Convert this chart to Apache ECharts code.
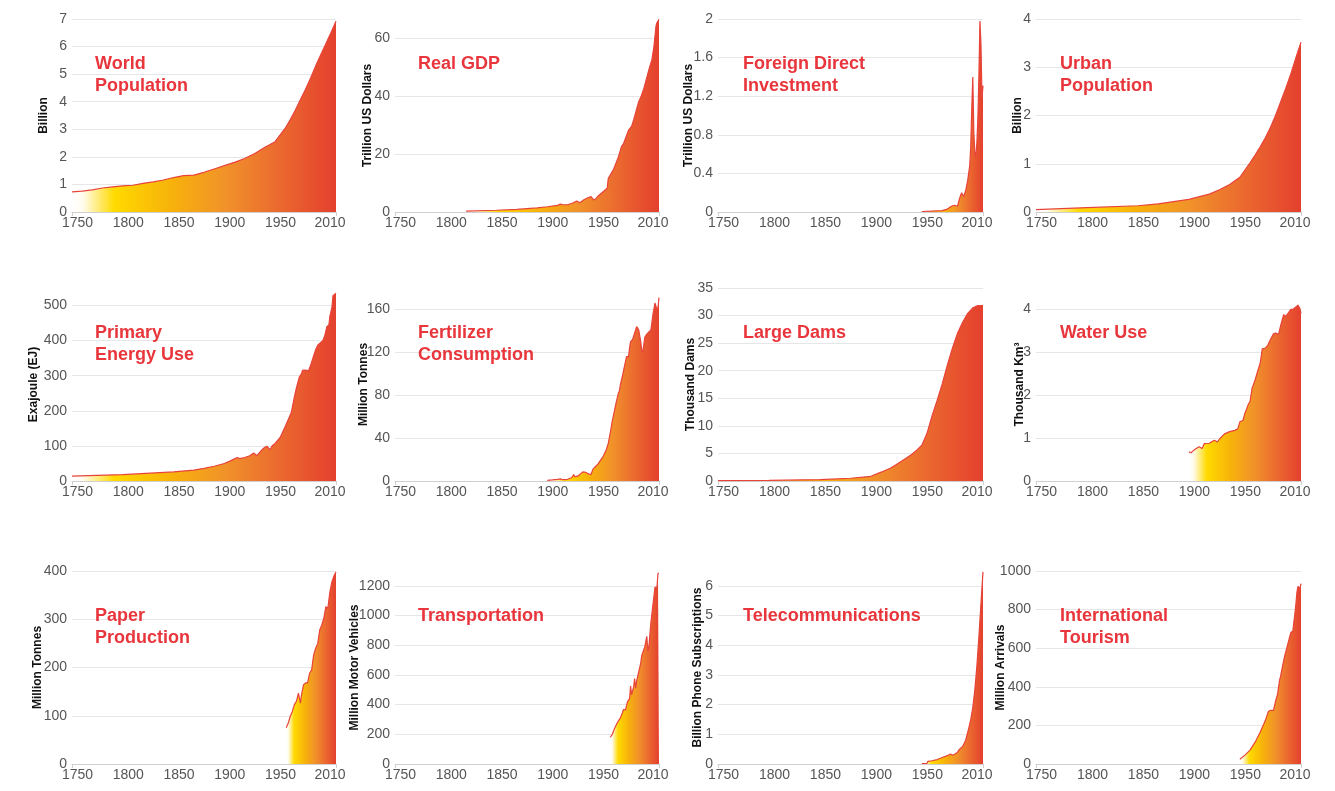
<!DOCTYPE html>
<html><head><meta charset="utf-8">
<script src="https://cdn.jsdelivr.net/npm/echarts@6/dist/echarts.min.js"></script>
<style>html,body{margin:0;padding:0;background:#fff}#c{width:1335px;height:791px}</style>
</head><body><div id="c"></div>
<script>
// ---- x axis tick labels ----
const xTickLabels = [1750, 1800, 1850, 1900, 1950, 2010];

// ---- World Population (billion) ----
const popYears  = [1750,1760,1770,1780,1790,1800,1810,1820,1830,1840,1850,1860,1870,1880,1890,1900,1910,1920,1930,1940,1950,1955,1960,1965,1970,1975,1980,1985,1990,1995,2000,2005,2010];
const popValues = [0.73,0.76,0.80,0.87,0.91,0.95,0.97,1.04,1.09,1.16,1.25,1.32,1.34,1.44,1.56,1.68,1.80,1.94,2.12,2.35,2.55,2.80,3.04,3.35,3.70,4.08,4.45,4.86,5.30,5.70,6.10,6.50,6.92];
const popTicks  = [0,1,2,3,4,5,6,7];

// ---- Real GDP (trillion US dollars) ----
const gdpYears  = [1820,1850,1870,1890,1900,1910,1913,1915,1920,1925,1929,1932,1936,1940,1943,1946,1948,1950,1955,1959,1960,1965,1970,1973,1975,1980,1983,1985,1990,1992,1995,2000,2003,2005,2007,2008,2009,2010];
const gdpValues = [0.3,0.6,0.9,1.4,1.8,2.3,2.7,2.5,2.5,3.1,3.8,3.2,4.2,4.9,5.3,4.1,4.7,5.5,7.0,8.2,11.5,14.5,19.0,22.5,23.5,28.2,29.5,31.7,38.0,39.5,42.5,49.0,52.5,57.0,64.0,65.2,64.8,66.4];
const gdpTicks  = [0,20,40,60];

// ---- Foreign Direct Investment (trillion US dollars) ----
const fdiYears  = [1950,1960,1970,1975,1979,1982,1985,1987,1989,1991,1993,1995,1997,1998,1999,2000,2001,2002,2003,2004,2005,2006,2007,2008,2009,2010];
const fdiValues = [0.005,0.01,0.015,0.03,0.06,0.07,0.06,0.14,0.2,0.16,0.22,0.33,0.48,0.69,1.08,1.40,0.82,0.62,0.57,0.72,0.98,1.42,1.98,1.74,1.18,1.31];
const fdiTicks  = [0,0.4,0.8,1.2,1.6,2];

// ---- Urban Population (billion) ----
const urbYears  = [1750,1800,1850,1870,1900,1920,1930,1940,1950,1955,1960,1965,1970,1975,1980,1985,1990,1995,2000,2005,2010];
const urbValues = [0.05,0.09,0.13,0.17,0.26,0.37,0.46,0.57,0.72,0.87,1.02,1.18,1.35,1.54,1.75,2.00,2.28,2.56,2.86,3.20,3.52];
const urbTicks  = [0,1,2,3,4];

// ---- Primary Energy Use (EJ) ----
const engYears  = [1750,1800,1850,1870,1880,1890,1900,1905,1910,1913,1915,1920,1925,1929,1932,1937,1940,1942,1945,1947,1950,1955,1960,1963,1966,1969,1971,1974,1976,1977,1980,1983,1985,1987,1990,1992,1995,1997,1999,2001,2003,2004,2006,2007,2010];
const engValues = [14,18,26,31,36,42,50,56,63,67,64,67,72,80,72,89,96,99,89,100,107,124,155,175,195,240,265,297,305,315,316,314,330,348,375,387,395,400,415,440,445,470,495,528,535];
const engTicks  = [0,100,200,300,400,500];

// ---- Fertilizer Consumption (million tonnes) ----
const ferYears  = [1900,1905,1910,1913,1915,1920,1924,1926,1927,1930,1935,1938,1941,1943,1945,1948,1950,1955,1958,1960,1962,1964,1966,1968,1970,1971,1972,1974,1976,1978,1980,1981,1982,1984,1986,1988,1990,1992,1993,1994,1996,1998,2000,2002,2004,2006,2007,2008,2009,2010];
const ferValues = [0.6,1.0,1.6,2.0,1.2,1.6,3,6,4,4.5,8.5,8,6.5,6,11,14,16,23,29,35,45,56,65,74,82,84,90,98,107,116,116,124,130,132,138,144,141,130,122,120,134,137,139,141,155,166,167,160,162,171];
const ferTicks  = [0,40,80,120,160];

// ---- Large Dams (thousand dams) ----
const damYears  = [1750,1800,1850,1880,1900,1910,1920,1930,1940,1945,1950,1955,1960,1965,1970,1975,1980,1985,1990,1995,2000,2005,2010];
const damValues = [0.05,0.1,0.25,0.5,0.85,1.6,2.4,3.6,4.8,5.6,6.5,8.6,11.8,14.6,17.6,21.0,24.1,26.8,28.8,30.4,31.4,31.8,31.8];
const damTicks  = [0,5,10,15,20,25,30,35];

// ---- Water Use (thousand km3) ----
const watYears  = [1900,1902,1905,1910,1913,1915,1920,1925,1928,1930,1935,1940,1945,1948,1950,1953,1955,1958,1960,1962,1965,1968,1970,1972,1975,1977,1980,1983,1985,1988,1990,1993,1995,1998,2000,2002,2005,2007,2009,2010];
const watValues = [0.68,0.66,0.72,0.80,0.76,0.87,0.88,0.95,0.91,0.98,1.10,1.15,1.18,1.22,1.38,1.41,1.58,1.77,1.86,2.16,2.36,2.60,2.75,3.08,3.10,3.15,3.30,3.43,3.45,3.42,3.62,3.88,3.84,3.93,4.00,4.00,4.06,4.10,4.02,3.90];
const watTicks  = [0,1,2,3,4];

// ---- Paper Production (million tonnes) ----
const papYears  = [1961,1963,1965,1967,1969,1971,1973,1974,1975,1976,1978,1980,1982,1984,1986,1988,1990,1992,1994,1996,1998,2000,2002,2004,2006,2008,2009,2010];
const papValues = [75,85,99,109,123,130,147,150,126,143,164,168,168,188,195,226,240,250,278,288,302,326,323,357,378,390,390,398];
const papTicks  = [0,100,200,300,400];

// ---- Transportation (million motor vehicles) ----
const traYears  = [1962,1964,1966,1968,1970,1972,1974,1975,1977,1979,1981,1982,1983,1985,1986,1987,1988,1990,1992,1993,1995,1996,1997,1998,1999,2000,2002,2004,2006,2008,2009,2010];
const traValues = [180,200,235,265,290,311,345,367,365,420,440,525,465,520,575,510,560,620,680,730,770,790,800,860,760,790,950,1070,1190,1190,1285,1285];
const traTicks  = [0,200,400,600,800,1000,1200];

// ---- Telecommunications (billion phone subscriptions) ----
const telYears  = [1950,1955,1956,1960,1965,1970,1975,1978,1980,1982,1985,1987,1990,1993,1996,1998,2000,2002,2004,2006,2008,2010];
const telValues = [0.01,0.02,0.09,0.11,0.15,0.22,0.28,0.34,0.30,0.32,0.40,0.50,0.59,0.80,1.20,1.50,1.90,2.50,3.30,4.30,5.40,6.47];
const telTicks  = [0,1,2,3,4,5,6];

// ---- International Tourism (million arrivals) ----
const touYears  = [1950,1955,1960,1965,1970,1975,1978,1980,1983,1985,1987,1988,1989,1990,1992,1994,1996,1998,2000,2002,2003,2004,2005,2006,2007,2008,2009,2010];
const touValues = [25,46,72,113,166,225,272,278,278,325,360,400,435,455,510,560,600,640,680,690,695,780,830,890,920,920,910,935];
const touTicks  = [0,200,400,600,800,1000];

const panels = [
  {title:'World\nPopulation', unit:'Billion', years:popYears, values:popValues, ticks:popTicks, max:7},
  {title:'Real GDP', unit:'Trillion US Dollars', years:gdpYears, values:gdpValues, ticks:gdpTicks, max:66.5},
  {title:'Foreign Direct\nInvestment', unit:'Trillion US Dollars', years:fdiYears, values:fdiValues, ticks:fdiTicks, max:2},
  {title:'Urban\nPopulation', unit:'Billion', years:urbYears, values:urbValues, ticks:urbTicks, max:4},
  {title:'Primary\nEnergy Use', unit:'Exajoule (EJ)', years:engYears, values:engValues, ticks:engTicks, max:550},
  {title:'Fertilizer\nConsumption', unit:'Million Tonnes', years:ferYears, values:ferValues, ticks:ferTicks, max:180},
  {title:'Large Dams', unit:'Thousand Dams', years:damYears, values:damValues, ticks:damTicks, max:35},
  {title:'Water Use', unit:'Thousand Km³', years:watYears, values:watValues, ticks:watTicks, max:4.5},
  {title:'Paper\nProduction', unit:'Million Tonnes', years:papYears, values:papValues, ticks:papTicks, max:400},
  {title:'Transportation', unit:'Million Motor Vehicles', years:traYears, values:traValues, ticks:traTicks, max:1300},
  {title:'Telecommunications', unit:'Billion Phone Subscriptions', years:telYears, values:telValues, ticks:telTicks, max:6.5},
  {title:'International\nTourism', unit:'Million Arrivals', years:touYears, values:touValues, ticks:touTicks, max:1000}
];

// ---- layout & style ----
const colLeft = [72, 395, 718, 1036];
const colWidth = [264, 264, 265, 265];
const rowTop = [19, 288, 571];
const plotH = 193;
const titleDx = [23, 23, 25, 24];
const nameGaps = [22,21,23,12, 32,25,21,10, 28,34,14,29];
const numFont = "'Liberation Sans',Arial,Helvetica,sans-serif";
const boldFont = "'Liberation Sans',Arial,Helvetica,sans-serif";
const labelColor = '#555555';
const red = '#e8363c';
const fillGrad = {type:'linear', x:0, y:0, x2:1, y2:0, colorStops:[
  {offset:0, color:'#ffffff'},
  {offset:0.04, color:'#fffcef'},
  {offset:0.16, color:'#ffda00'},
  {offset:0.38, color:'#f7b10b'},
  {offset:0.58, color:'#f1922a'},
  {offset:0.78, color:'#eb6a2f'},
  {offset:1, color:'#e4402e'}
]};

const grid = [], xAxis = [], yAxis = [], series = [], title = [];
panels.forEach((p, i) => {
  const c = i % 4, r = Math.floor(i / 4);
  grid.push({left:colLeft[c], top:rowTop[r], width:colWidth[c], height:plotH, outerBoundsMode:'none', containLabel:false});
  xAxis.push({
    gridIndex:i, type:'value', min:1750, max:2010,
    axisLine:{show:true, lineStyle:{color:'#cfcfcf', width:1}},
    axisTick:{show:true, customValues:[1750, 2010], length:4, lineStyle:{color:'#cfcfcf'}},
    splitLine:{show:false},
    axisLabel:{
      customValues:xTickLabels, margin:4,
      formatter: v => v === 2010 ? '{e|' + v + '}' : '{n|' + v + '}',
      rich:{
        n:{padding:[0,0,0,11], fontSize:14, color:labelColor, fontFamily:numFont},
        e:{padding:[0,12,0,0], fontSize:14, color:labelColor, fontFamily:numFont}
      }
    }
  });
  yAxis.push({
    gridIndex:i, type:'value', min:0, max:p.max,
    axisLine:{show:false},
    axisTick:{show:false, customValues:p.ticks},
    splitLine:{show:true, lineStyle:{color:'#e6e6e6', width:1}},
    axisLabel:{customValues:p.ticks, formatter: v => String(v), margin:5, fontSize:14, color:labelColor, fontFamily:numFont},
    name:p.unit, nameLocation:'middle', nameGap:nameGaps[i], nameMoveOverlap:false,
    nameTextStyle:{fontFamily:boldFont, fontWeight:'bold', fontSize:12, color:'#111'}
  });
  series.push({
    type:'line', xAxisIndex:i, yAxisIndex:i,
    data:p.years.map((y, k) => [y, p.values[k]]),
    showSymbol:false, symbol:'none', silent:true,
    lineStyle:{color:'#e8433a', width:1.2},
    areaStyle:{color:fillGrad, opacity:1}
  });
  title.push({
    text:p.title, left:colLeft[c] + titleDx[c], top:rowTop[r] + 34, padding:0,
    textStyle:{color:red, fontSize:18, fontWeight:'bold', lineHeight:22, fontFamily:boldFont}
  });
});

const chart = echarts.init(document.getElementById('c'), null, {renderer:'canvas'});
chart.setOption({animation:false, backgroundColor:'#ffffff', title, grid, xAxis, yAxis, series});
</script>
</body></html>
